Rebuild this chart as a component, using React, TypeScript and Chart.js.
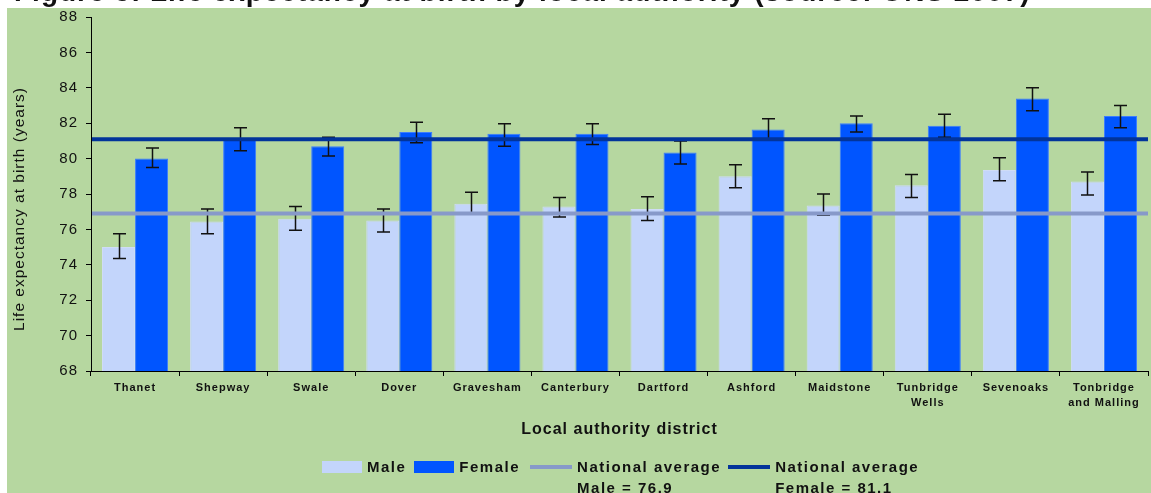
import React, { useEffect, useRef } from "react";
import { Chart, registerables } from "chart.js";

Chart.register(...registerables);

// Kent local authority districts
const districts: (string | string[])[] = [
  "Thanet",
  "Shepway",
  "Swale",
  "Dover",
  "Gravesham",
  "Canterbury",
  "Dartford",
  "Ashford",
  "Maidstone",
  ["Tunbridge", "Wells"],
  "Sevenoaks",
  ["Tonbridge", "and Malling"],
];

// Life expectancy at birth (years)
const maleLE = [75.0, 76.45, 76.6, 76.5, 77.45, 77.3, 77.15, 79.0, 77.35, 78.5, 79.35, 78.7];
const femaleLE = [80.0, 81.1, 80.7, 81.5, 81.4, 81.4, 80.35, 81.65, 82.0, 81.85, 83.4, 82.4];

// 95% confidence intervals
const maleLow = [74.35, 75.75, 75.95, 75.85, 76.85, 76.7, 76.5, 78.35, 76.8, 77.8, 78.75, 77.95];
const maleHigh = [75.75, 77.15, 77.3, 77.15, 78.1, 77.8, 77.85, 79.65, 78.0, 79.1, 80.05, 79.25];
const femaleLow = [79.5, 80.45, 80.15, 80.9, 80.7, 80.8, 79.7, 81.05, 81.5, 81.2, 82.7, 81.75];
const femaleHigh = [80.6, 81.75, 81.2, 82.05, 81.97, 81.97, 81.0, 82.25, 82.4, 82.5, 84.0, 83.0];

// National averages
const nationalMale = 76.9;
const nationalFemale = 81.1;

// Value axis range
const yMin = 68;
const yMax = 88;
const yStep = 2;

const yAxisTitle = "Life expectancy at birth (years)";
const xAxisTitle = "Local authority district";
const figureTitle = "Figure 3: Life expectancy at birth by local authority (source: ONS 2007)";

const GREEN = "#b6d7a0";
const MALE_FILL = "#c3d5fb";
const MALE_EDGE = "#cfdcf6";
const FEMALE_FILL = "#0055ff";
const FEMALE_EDGE = "#3b7cff";
const NAT_MALE = "#8799c9";
const NAT_FEMALE = "#02349a";
const INK = "#111";
const FONT = "Arial, 'Liberation Sans', sans-serif";

const W = 1151;
const H = 493;

const errorRanges: Record<string, [number[], number[]]> = {
  Male: [maleLow, maleHigh],
  Female: [femaleLow, femaleHigh],
};

const referenceLines = [
  { value: nationalMale, color: NAT_MALE },
  { value: nationalFemale, color: NAT_FEMALE },
];

// White page border, green panel, and the figure heading just above the panel
const panelPlugin = {
  id: "panel",
  beforeDraw(chart: any) {
    const ctx = chart.ctx as CanvasRenderingContext2D;
    ctx.save();
    ctx.fillStyle = "#fff";
    ctx.fillRect(0, 0, chart.width, chart.height);
    ctx.fillStyle = GREEN;
    ctx.fillRect(7, 8, chart.width - 7, chart.height - 8);
    ctx.restore();
  },
  afterDraw(chart: any) {
    const ctx = chart.ctx as CanvasRenderingContext2D;
    ctx.save();
    ctx.beginPath();
    ctx.rect(0, 0, chart.width, 8);
    ctx.clip();
    ctx.fillStyle = INK;
    ctx.font = `bold 28px ${FONT}`;
    ctx.textAlign = "left";
    ctx.textBaseline = "alphabetic";
    ctx.fillText(figureTitle, 14, 0.5);
    ctx.restore();
  },
};

// Confidence-interval whiskers, drawn right after each bar series
const errorBarPlugin = {
  id: "errorBars",
  afterDatasetDraw(chart: any, args: any) {
    const ds = chart.data.datasets[args.index];
    const range = errorRanges[ds.label as string];
    if (!range) return;
    const [lows, highs] = range;
    const yScale = chart.scales.y;
    const ctx = chart.ctx as CanvasRenderingContext2D;
    const cap = 6.5;
    ctx.save();
    ctx.strokeStyle = INK;
    ctx.lineWidth = 1.5;
    args.meta.data.forEach((bar: any, i: number) => {
      const x = Math.round(bar.x) + 0.5;
      const yl = yScale.getPixelForValue(lows[i]);
      const yh = yScale.getPixelForValue(highs[i]);
      ctx.beginPath();
      ctx.moveTo(x, yl);
      ctx.lineTo(x, yh);
      ctx.moveTo(x - cap, yl);
      ctx.lineTo(x + cap, yl);
      ctx.moveTo(x - cap, yh);
      ctx.lineTo(x + cap, yh);
      ctx.stroke();
    });
    ctx.restore();
  },
};

// National average lines across the full plot width, on top of the bars
const nationalLinesPlugin = {
  id: "nationalLines",
  afterDatasetsDraw(chart: any) {
    const { ctx, chartArea } = chart;
    const yScale = chart.scales.y;
    ctx.save();
    ctx.lineWidth = 4;
    referenceLines.forEach((ln) => {
      const y = yScale.getPixelForValue(ln.value);
      ctx.strokeStyle = ln.color;
      ctx.beginPath();
      ctx.moveTo(chartArea.left + 1, y);
      ctx.lineTo(chartArea.right, y);
      ctx.stroke();
    });
    ctx.restore();
  },
};

// Rotated value-axis title, sitting a little below the axis midpoint
const yTitlePlugin = {
  id: "yTitle",
  afterDraw(chart: any) {
    const { ctx, chartArea } = chart;
    ctx.save();
    ctx.translate(20, (chartArea.top + chartArea.bottom) / 2 + 15);
    ctx.rotate(-Math.PI / 2);
    ctx.fillStyle = INK;
    ctx.font = `15.5px ${FONT}`;
    ctx.textAlign = "center";
    ctx.textBaseline = "middle";
    ctx.fillText(yAxisTitle, 0, 0);
    ctx.restore();
  },
};

// Slightly tracked-out lettering for all canvas text
const spacingPlugin = {
  id: "letterSpacing",
  beforeDraw(chart: any) {
    (chart.ctx as any).letterSpacing = "1px";
  },
  afterDraw(chart: any) {
    (chart.ctx as any).letterSpacing = "0px";
  },
};

const legendItems = [
  { kind: "box", color: MALE_FILL, lines: ["Male"], gapAfter: 8 },
  { kind: "box", color: FEMALE_FILL, lines: ["Female"], gapAfter: 10 },
  { kind: "line", color: NAT_MALE, lines: ["National average", `Male = ${nationalMale}`], gapAfter: 7 },
  { kind: "line", color: NAT_FEMALE, lines: ["National average", `Female = ${nationalFemale}`], gapAfter: 0 },
];

export default function App() {
  const canvasRef = useRef<HTMLCanvasElement | null>(null);

  useEffect(() => {
    // The figure draws its own page border, so drop the default body margin
    const prevMargin = document.body.style.margin;
    document.body.style.margin = "0";

    const canvas = canvasRef.current;
    if (!canvas) return;
    const chart = new Chart(canvas, {
      type: "bar",
      data: {
        labels: districts,
        datasets: [
          {
            label: "Male",
            data: maleLE,
            backgroundColor: MALE_FILL,
            borderColor: MALE_EDGE,
            borderWidth: 1,
            categoryPercentage: 0.75,
            barPercentage: 1.0,
          },
          {
            label: "Female",
            data: femaleLE,
            backgroundColor: FEMALE_FILL,
            borderColor: FEMALE_EDGE,
            borderWidth: 1,
            categoryPercentage: 0.75,
            barPercentage: 1.0,
          },
        ],
      },
      options: {
        animation: false,
        responsive: false,
        devicePixelRatio: 1,
        layout: { padding: { top: 14, right: 3, bottom: 50, left: 8 } },
        plugins: {
          legend: { display: false },
          tooltip: { enabled: false },
        },
        scales: {
          x: {
            type: "category",
            offset: true,
            grid: {
              offset: true,
              drawOnChartArea: false,
              drawTicks: true,
              tickLength: 5,
              color: "#000",
            },
            border: { display: true, color: "#000", width: 1 },
            ticks: {
              autoSkip: false,
              maxRotation: 0,
              minRotation: 0,
              padding: 5,
              color: INK,
              font: { family: FONT, size: 11, weight: "bold", lineHeight: 1.35 },
            },
            title: {
              display: true,
              text: xAxisTitle,
              color: INK,
              font: { family: FONT, size: 16, weight: "bold" },
              padding: { top: 0, bottom: 4 },
            },
            afterFit(scale: any) {
              scale.height = 72;
            },
          },
          y: {
            min: yMin,
            max: yMax,
            ticks: {
              stepSize: yStep,
              padding: 8,
              color: INK,
              font: { family: FONT, size: 15 },
            },
            grid: {
              drawOnChartArea: false,
              drawTicks: true,
              tickLength: 5,
              color: "#000",
            },
            border: { display: true, color: "#000", width: 1 },
            afterFit(scale: any) {
              scale.width = 83;
            },
          },
        },
      } as any,
      plugins: [panelPlugin, errorBarPlugin, nationalLinesPlugin, yTitlePlugin, spacingPlugin],
    });
    return () => {
      chart.destroy();
      document.body.style.margin = prevMargin;
    };
  }, []);

  return (
    <div style={{ position: "relative", width: W, height: H, overflow: "hidden" }}>
      <canvas
        ref={canvasRef}
        width={W}
        height={H}
        style={{ position: "absolute", left: 0, top: 0, width: W, height: H }}
      />
      <div
        style={{
          position: "absolute",
          left: 322,
          top: 456,
          display: "flex",
          alignItems: "flex-start",
          font: `bold 15px ${FONT}`,
          letterSpacing: "1.5px",
          lineHeight: "21px",
          color: INK,
        }}
      >
        {legendItems.map((item) => (
          <div
            key={item.lines.join(" ")}
            style={{ display: "flex", alignItems: "flex-start", marginRight: item.gapAfter }}
          >
            {item.kind === "box" ? (
              <div style={{ width: 40, height: 12, marginTop: 5, marginRight: 5, background: item.color }} />
            ) : (
              <div style={{ width: 42, height: 4, marginTop: 9, marginRight: 5, background: item.color }} />
            )}
            <div>
              {item.lines.map((l) => (
                <div key={l}>{l}</div>
              ))}
            </div>
          </div>
        ))}
      </div>
    </div>
  );
}
